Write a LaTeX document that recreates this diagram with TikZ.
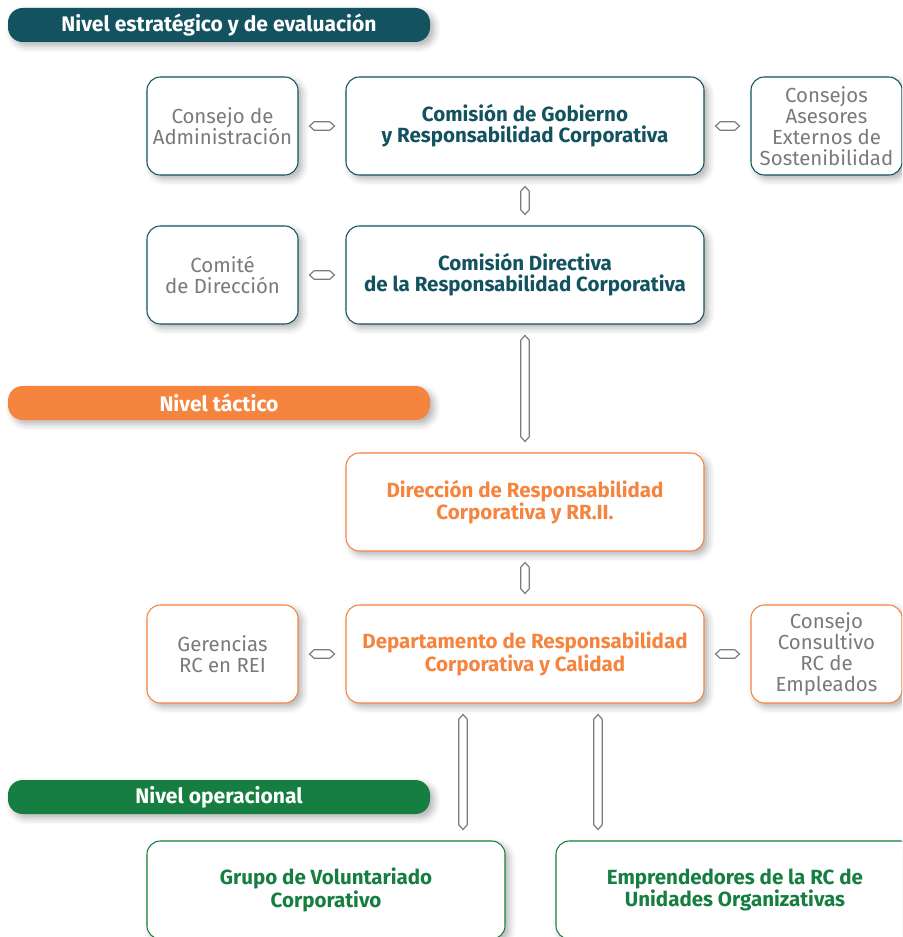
\documentclass[tikz,border=0pt]{standalone}
\usepackage{fontspec}
\setmainfont{Fira Sans}
\usetikzlibrary{calc,shadows.blur}

\definecolor{tealdark}{HTML}{13525F}
\definecolor{orangetac}{HTML}{F5843F}
\definecolor{greenop}{HTML}{167E41}
\definecolor{textgray}{HTML}{7A7A7A}
\definecolor{linkgray}{HTML}{7C7C7C}

\tikzset{
  softshadow/.style={blur shadow={shadow xshift=3pt, shadow yshift=-3pt,
      shadow blur radius=5pt, shadow opacity=30}},
  banner/.style={fill=#1, rounded corners=11pt, minimum width=316.5pt,
      minimum height=25.5pt, text=white, softshadow,
      font=\bfseries\fontsize{15.8}{17}\selectfont},
  mainbox/.style={draw=#1, fill=white, line width=0.8pt, rounded corners=10pt,
      minimum width=268.5pt, minimum height=73.5pt, text=#1, softshadow,
      font=\bfseries\fontsize{15.4}{15.75}\selectfont},
  sidebox/.style={draw=#1, fill=white, line width=0.8pt, rounded corners=10pt,
      minimum width=113.25pt, minimum height=73.5pt, text=textgray, softshadow,
      font=\fontsize{15.3}{15.75}\selectfont},
  hexlink/.style={draw=linkgray, line width=0.9pt, fill=white,
    to path={
      let \p1=($(\tikztostart)!8.25pt!(\tikztotarget)$),
          \p2=($(\tikztotarget)!8.25pt!(\tikztostart)$),
          \p3=($(\p1)!3.5pt!(\p2)$), \p4=($(\p2)!3.5pt!(\p1)$)
      in (\p1) -- ($(\p3)!3.2pt!90:(\p2)$) -- ($(\p4)!3.2pt!-90:(\p1)$) -- (\p2)
         -- ($(\p4)!3.2pt!90:(\p1)$) -- ($(\p3)!3.2pt!-90:(\p2)$) -- cycle
    }}
}

\begin{document}
\begin{tikzpicture}[x=0.75pt,y=-0.75pt,
  every node/.style={inner sep=0pt, align=center}]
\useasboundingbox (0,0) rectangle (902,937);
\clip (0,0) rectangle (902,937);

% Level banners
\node[banner=tealdark] (nivE) at (219,25) {Nivel estratégico y de evaluación};
\node[banner=orangetac] (nivT) at (219,403) {Nivel táctico};
\node[banner=greenop] (nivO) at (219,797) {Nivel operacional};

% Strategic level
\node[sidebox=tealdark] (cons) at (222.5,126) {Consejo de\\Administración};
\node[mainbox=tealdark] (gob) at (525,126) {Comisión de Gobierno\\y Responsabilidad Corporativa};
\node[sidebox=tealdark] (ases) at (826.5,126) {Consejos\\Asesores\\Externos de\\Sostenibilidad};
\node[sidebox=tealdark] (comite) at (222.5,275) {Comité\\de Dirección};
\node[mainbox=tealdark] (cdir) at (525,275) {Comisión Directiva\\de la Responsabilidad Corporativa};

% Tactical level
\node[mainbox=orangetac] (drc) at (525,502) {Dirección de Responsabilidad\\Corporativa y RR.II.};
\node[sidebox=orangetac] (ger) at (222.5,654) {Gerencias\\RC en REI};
\node[mainbox=orangetac] (dep) at (525,654) {Departamento de Responsabilidad\\Corporativa y Calidad};
\node[sidebox=orangetac] (ccons) at (826.5,654) {Consejo\\Consultivo\\RC de\\Empleados};

% Operational level
\node[mainbox=greenop] (vol) at (326,890) {Grupo de Voluntariado\\Corporativo};
\node[mainbox=greenop] (emp) at (735,890) {Emprendedores de la RC de\\Unidades Organizativas};

% Links
\draw[hexlink] (cons.east) to (gob.west);
\draw[hexlink] (gob.east) to (ases.west);
\draw[hexlink] (gob.south) to (cdir.north);
\draw[hexlink] (comite.east) to (cdir.west);
\draw[hexlink] (cdir.south) to (drc.north);
\draw[hexlink] (drc.south) to (dep.north);
\draw[hexlink] (ger.east) to (dep.west);
\draw[hexlink] (dep.east) to (ccons.west);
\draw[hexlink] ($(dep.south)+(-62,0)$) to ($(vol.north)+(137,0)$);
\draw[hexlink] ($(dep.south)+(73,0)$) to ($(emp.north)+(-137,0)$);
\end{tikzpicture}
\end{document}
